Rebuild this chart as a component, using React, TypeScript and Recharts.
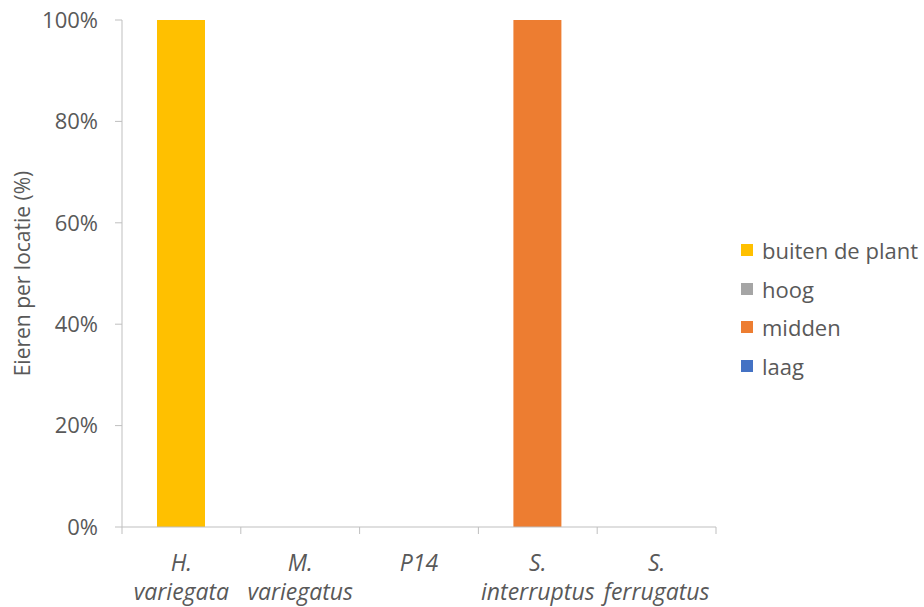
import React from 'react';
import { BarChart, Bar, XAxis, YAxis } from 'recharts';

const categories = ['H. variegata', 'M. variegatus', 'P14', 'S. interruptus', 'S. ferrugatus'];
const laag = [0, 0, 0, 0, 0];
const midden = [0, 0, 0, 100, 0];
const hoog = [0, 0, 0, 0, 0];
const buiten = [100, 0, 0, 0, 0];
const yTicks = [0, 20, 40, 60, 80, 100];

const series = [
  { key: 'laag', name: 'laag', color: '#4472C4', values: laag },
  { key: 'midden', name: 'midden', color: '#ED7D31', values: midden },
  { key: 'hoog', name: 'hoog', color: '#A5A5A5', values: hoog },
  { key: 'buiten', name: 'buiten de plant', color: '#FFC000', values: buiten },
];

const data = categories.map((name, i) => {
  const row: Record<string, string | number> = { name };
  series.forEach((s) => {
    row[s.key] = s.values[i];
  });
  return row;
});

const FONT = '"Open Sans", sans-serif';
const TEXT = '#595959';
const AXIS = '#BFBFBF';
const W = 924;
const H = 607;
const margin = { top: 20, right: 208, bottom: 0, left: 0 };
const bandWidth = (W - 122 - margin.right) / categories.length;

const CategoryTick = (props: any) => {
  const { x, y, payload, index } = props;
  const parts = String(payload.value).split(' ');
  const half = bandWidth / 2;
  return (
    <g>
      <line x1={x - half} y1={y - 8} x2={x - half} y2={y - 1} stroke={AXIS} />
      {index === categories.length - 1 && (
        <line x1={x + half} y1={y - 8} x2={x + half} y2={y - 1} stroke={AXIS} />
      )}
      <text x={x} y={y + 36} textAnchor="middle" fill={TEXT} fontFamily={FONT} fontSize={23} fontStyle="italic">
        {parts.map((p, i) => (
          <tspan key={i} x={x} dy={i === 0 ? 0 : 29}>
            {p}
          </tspan>
        ))}
      </text>
    </g>
  );
};

// legend in Excel order: last series on top
const ChartLegend = () => (
  <div
    style={{
      position: 'absolute',
      left: 741,
      top: 231,
      fontFamily: FONT,
      fontSize: 22,
      color: TEXT,
      whiteSpace: 'nowrap',
    }}
  >
    {[...series].reverse().map((s) => (
      <div key={s.key} style={{ display: 'flex', alignItems: 'center', height: 38.5 }}>
        <span style={{ width: 12, height: 12, background: s.color, marginRight: 9, display: 'inline-block' }} />
        <span>{s.name}</span>
      </div>
    ))}
  </div>
);

export default function App() {
  return (
    <div style={{ position: 'absolute', left: 0, top: 0, width: W, height: H, background: '#fff' }}>
      <BarChart width={W} height={H} data={data} margin={margin} barSize={48}>
        <XAxis
          dataKey="name"
          height={80}
          tick={<CategoryTick />}
          tickLine={false}
          axisLine={{ stroke: AXIS }}
          interval={0}
        />
        <YAxis
          width={122}
          domain={[0, 100]}
          ticks={yTicks}
          tickFormatter={(v: number) => `${v}%`}
          tickSize={7}
          tickMargin={17}
          tickLine={{ stroke: AXIS }}
          axisLine={{ stroke: AXIS }}
          tick={{ fill: TEXT, fontFamily: FONT, fontSize: 22 }}
          label={{
            content: (p: any) => {
              const vb = p.viewBox;
              const cy = vb.y + vb.height / 2;
              return (
                <text
                  x={22}
                  y={cy}
                  transform={`rotate(-90, 22, ${cy})`}
                  textAnchor="middle"
                  dominantBaseline="central"
                  fill={TEXT}
                  fontFamily={FONT}
                  fontSize={21}
                >
                  Eieren per locatie (%)
                </text>
              );
            },
          }}
        />
        {series.map((s) => (
          <Bar key={s.key} dataKey={s.key} name={s.name} stackId="a" fill={s.color} isAnimationActive={false} />
        ))}
      </BarChart>
      <ChartLegend />
    </div>
  );
}
